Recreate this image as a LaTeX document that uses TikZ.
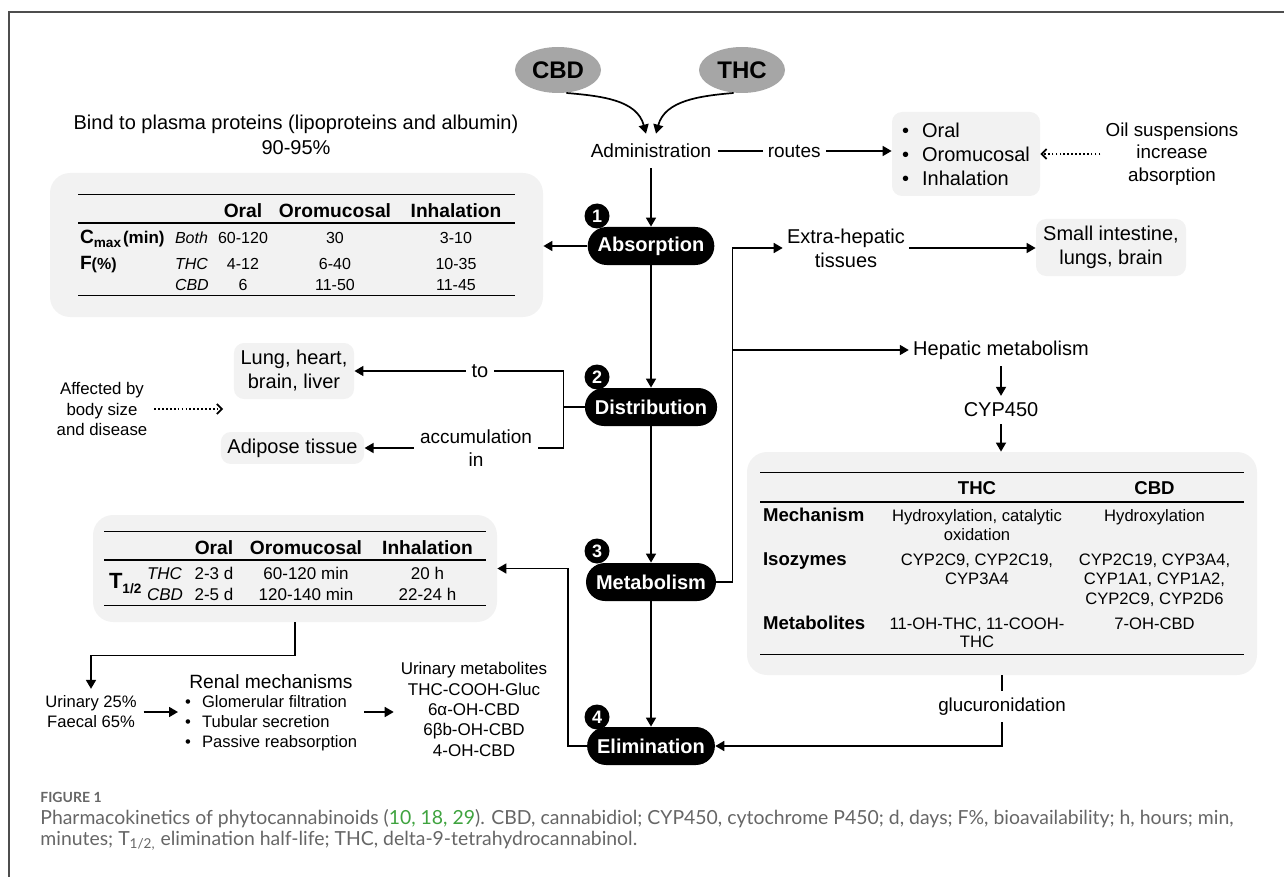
\documentclass[tikz,border=0pt]{standalone}
\usepackage{fontspec}
\setmainfont{Liberation Sans}
\newfontfamily\capfont{Lato}
\usepackage{array}
\usepackage{xcolor}
\usepackage{tikz}
\usetikzlibrary{arrows.meta, shapes.geometric, calc}

\definecolor{boxgrey}{HTML}{F2F2F2}
\definecolor{druggrey}{HTML}{A6A6A6}
\definecolor{framegrey}{HTML}{4D4D4D}
\definecolor{capgrey}{HTML}{666666}
\definecolor{refgreen}{HTML}{3FA33F}

% table rows get their height from a strut only
\renewcommand{\arraystretch}{0}
\setlength{\tabcolsep}{0pt}
\setlength{\arrayrulewidth}{0.75pt}
\newcommand{\rh}[2]{\rule[-#2]{0pt}{\dimexpr#1+#2\relax}}
\newcommand{\hbig}[1]{{\fontsize{9.6}{11}\selectfont\bfseries #1}}
\newcommand{\hsm}[1]{{\fontsize{9.3}{11}\selectfont\bfseries #1}}

\begin{document}
\begin{tikzpicture}[x=0.5pt, y=-0.5pt, >={Triangle[length=4.5pt,width=5pt]},
    conn/.style={line width=0.85pt},
    arr/.style={conn, ->},
    dotarr/.style={line width=0.85pt, dash pattern=on 0.85pt off 1.1pt, -{Straight Barb[length=2.5pt,width=5pt]}},
    lbl/.style={font=\fontsize{10}{12}\selectfont, align=center},
    slbl/.style={font=\fontsize{8.3}{10}\selectfont, align=center},
    drug/.style={ellipse, fill=druggrey, font=\bfseries\fontsize{12}{14}\selectfont, minimum width=43pt, minimum height=23pt, inner sep=0pt},
    stage/.style={fill=black, text=white, font=\bfseries\fontsize{10}{12}\selectfont, rounded corners=9.5pt, minimum height=19pt, inner xsep=5pt},
    badge/.style={circle, fill=black, text=white, font=\bfseries\fontsize{9}{10}\selectfont, minimum size=12.5pt, inner sep=0pt},
    greybox/.style={fill=boxgrey, rounded corners=5pt, align=center},
    tabbox/.style={fill=boxgrey, rounded corners=10pt, inner sep=0pt},
    capstyle/.style={anchor=west, inner sep=0pt, text=capgrey, font=\capfont\fontsize{9.7}{11}\selectfont}]

  \useasboundingbox (0,0) rectangle (1284,877);
  \draw[framegrey, line width=1pt] (9,877) -- (9,12) -- (1284,12);

  % drugs and administration
  \node[drug] (cbd) at (558,70) {CBD};
  \node[drug] (thc) at (742,70) {THC};
  \node[lbl, font=\fontsize{9.5}{11}\selectfont, inner xsep=3pt, inner ysep=5pt] (adm) at (651,151) {Administration};
  \draw[arr] (cbd.-70) to[out=-5, in=105] ([xshift=-2.5pt]adm.north);
  \draw[arr] (thc.-110) to[out=185, in=75] ([xshift=2.5pt]adm.north);

  \node[lbl, font=\fontsize{10}{12.5}\selectfont] (bind) at (296,134.5)
        {Bind to plasma proteins (lipoproteins and albumin)\\90-95\%};

  \node[greybox, align=left, minimum width=74pt, minimum height=42pt, inner xsep=5pt] (routelist) at (966,154)
        {\textbullet\hspace{6.5pt}Oral\\\textbullet\hspace{6.5pt}Oromucosal\\\textbullet\hspace{6.5pt}Inhalation};
  \draw[arr] (adm.east) -- node[lbl, font=\fontsize{9.5}{11}\selectfont, fill=white, inner xsep=2.5pt, pos=0.44]{routes} (adm.east -| routelist.west);
  \node[lbl, font=\fontsize{9.4}{11.3}\selectfont, inner xsep=2.5pt] (oil) at (1172,154) {Oil suspensions\\increase\\absorption};
  \draw[dotarr] (oil.west) -- (oil.west -| routelist.east);

  % the four stages
  \node[stage] (abs) at (651,246) {Absorption};
  \node[stage] (dis) at (651,407) {Distribution};
  \node[stage] (met) at (651,582) {Metabolism};
  \node[stage] (eli) at (651,746) {Elimination};
  \node[badge] (b1) at ($(abs)+(-54,-30)$) {1};
  \node[badge] (b2) at ($(dis)+(-54,-30)$) {2};
  \node[badge] (b3) at ($(met)+(-54,-31)$) {3};
  \node[badge] (b4) at ($(eli)+(-54,-29)$) {4};
  \draw[arr] (adm) -- (abs);
  \draw[arr] (abs) -- (dis);
  \draw[arr] (dis) -- (met);
  \draw[arr] (met) -- (eli);

  % absorption table
  \node[tabbox, minimum width=246.5pt, minimum height=72pt] (cmaxtab) at (296.5,245) {%
    \fontsize{8}{9.6}\selectfont
    \begin{tabular}{@{}w{l}{46.5pt}w{l}{21pt}w{c}{30pt}w{c}{62pt}w{c}{59pt}@{}}
      \hline
      \rh{10.9pt}{2.6pt} & & \hbig{Oral} & \hbig{Oromucosal} & \hbig{Inhalation}\\ \hline
      \rh{9.9pt}{3.6pt}\hspace{1pt}\hbig{C}{\fontsize{6.8}{8}\selectfont\bfseries\raisebox{-2pt}{max}}\hspace{1pt}{\fontsize{8.5}{10}\selectfont\bfseries(min)}
        & \hspace{2pt}\textit{Both} & 60-120 & 30 & 3-10\\
      \rh{9.4pt}{2.35pt}\hspace{1pt}\hbig{F}{\fontsize{8}{9}\selectfont\bfseries(\%)}
        & \hspace{2pt}\textit{THC} & 4-12 & 6-40 & 10-35\\
      \rh{8.15pt}{2.1pt} & \hspace{2pt}\textit{CBD} & 6 & 11-50 & 11-45\\ \hline
    \end{tabular}};
  \draw[arr] (abs.west) -- (abs.west -| cmaxtab.east);

  % distribution
  \node[greybox, lbl, minimum width=60pt, minimum height=28pt] (lung) at (294,371) {Lung, heart,\\brain, liver};
  \node[greybox, lbl, minimum width=70.5pt, minimum height=15pt] (fat) at (292.5,448) {Adipose tissue};
  \draw[conn] (dis.west) -- ++(-10.5pt,0) coordinate (split);
  \draw[arr] (split) |- node[lbl, fill=white, pos=0.7, inner xsep=3pt]{to} (lung.east);
  \draw[arr] (split) |- node[lbl, font=\fontsize{9.5}{11.5}\selectfont, fill=white, pos=0.72, inner xsep=3pt, inner ysep=1pt]{accumulation\\in} (fat.east);
  \node[slbl, font=\fontsize{8.4}{10.25}\selectfont] (aff) at (102,409) {Affected by\\body size\\and disease};
  \coordinate (affend) at (223,409);
  \draw[dotarr] (aff.east) -- (affend);

  % metabolism
  \node[lbl, inner xsep=2pt] (extra) at (846,248) {Extra-hepatic\\tissues};
  \node[greybox, lbl, minimum width=75pt, minimum height=28.5pt] (small) at (1111,247.5) {Small intestine,\\lungs, brain};
  \node[lbl, inner xsep=2pt] (hep) at (1001,350) {Hepatic metabolism};
  \node[lbl] (cyp) at (1001,410) {CYP450};
  \draw[arr] (met.east) -- ++(8pt,0) coordinate (mright) |- (extra.west);
  \draw[arr] (mright |- hep.west) -- (hep.west);
  \draw[arr] (extra.east) -- (extra.east -| small.west);
  \draw[arr] (hep) -- (cyp);

  \node[tabbox, minimum width=255pt, minimum height=111.5pt] (cyptab) at (1002,563.5) {%
    \fontsize{8.3}{10}\selectfont
    \begin{tabular}{@{}w{l}{64.5pt}w{c}{88pt}w{c}{89.5pt}@{}}
      \hline
      \rh{10.8pt}{3.2pt} & \hsm{THC} & \hsm{CBD}\\ \hline
      \rh{9.5pt}{1.75pt}\hspace{1.5pt}\hsm{Mechanism} & Hydroxylation, catalytic & Hydroxylation\\
      \rh{7.75pt}{3.25pt} & oxidation & \\
      \rh{9.25pt}{1.5pt}\hspace{1.5pt}\hsm{Isozymes} & CYP2C9, CYP2C19, & CYP2C19, CYP3A4,\\
      \rh{7.5pt}{2pt} & CYP3A4 & CYP1A1, CYP1A2,\\
      \rh{8pt}{3.25pt} & & CYP2C9, CYP2D6\\
      \rh{9.25pt}{1.5pt}\hspace{1.5pt}\hsm{Metabolites} & 11-OH-THC, 11-COOH- & 7-OH-CBD\\
      \rh{7.5pt}{3pt} & THC & \\ \hline
    \end{tabular}};
  \draw[arr] (cyp.south) -- (cyp.south |- cyptab.north);
  \draw[arr] (cyptab.south) |- node[lbl, font=\fontsize{9.4}{11}\selectfont, fill=white, pos=0.22, inner xsep=2pt]{glucuronidation} (eli.east);

  % elimination
  \node[tabbox, minimum width=202pt, minimum height=53.5pt] (halftab) at (295,568.5) {%
    \fontsize{8.5}{10}\selectfont
    \begin{tabular}{@{}w{l}{19.5pt}w{l}{21pt}w{c}{29pt}w{c}{63pt}w{c}{58.5pt}@{}}
      \hline
      \rh{10.9pt}{2.6pt} & & \hbig{Oral} & \hbig{Oromucosal} & \hbig{Inhalation}\\ \hline
      \rh{9.5pt}{2.25pt}\hspace{2.5pt}\raisebox{-4.5pt}[0pt][0pt]{{\fontsize{11}{12}\selectfont\bfseries T}{\fontsize{6.8}{8}\selectfont\bfseries\raisebox{-2.5pt}{1/2}}}
        & \hspace{2pt}\textit{THC} & 2-3 d & 60-120 min & 20 h\\
      \rh{8.25pt}{2pt} & \hspace{2pt}\textit{CBD} & 2-5 d & 120-140 min & 22-24 h\\ \hline
    \end{tabular}};
  \draw[arr] (eli.west) -- ++(-9.5pt,0) |- (halftab.east);

  \node[slbl] (uri) at (91,712) {Urinary 25\%\\Faecal 65\%};
  \node[lbl, font=\fontsize{9.6}{11}\selectfont] (renal) at (271,682) {Renal mechanisms};
  \node[slbl, align=left, anchor=west] (renlist) at (178,723)
        {\textbullet\hspace{5.6pt}Glomerular filtration\\\textbullet\hspace{5.6pt}Tubular secretion\\\textbullet\hspace{5.6pt}Passive reabsorption};
  \node[slbl, font=\fontsize{8.5}{10.15}\selectfont] (umet) at (474,709.5)
        {Urinary metabolites\\THC-COOH-Gluc\\6α-OH-CBD\\6βb-OH-CBD\\4-OH-CBD};
  \draw[arr] (halftab.south) -- ++(0,-16.5pt) -| (uri.north);
  \draw[arr] (uri.east) -- (uri.east -| renlist.west);
  \draw[arr] (renlist.east |- uri.east) -- (umet.west |- uri.east);

  % caption
  \node[capstyle, font=\capfont\bfseries\fontsize{7}{8}\selectfont] (figno) at (40,797) {FIGURE 1};
  \node[capstyle] (capa) at (40,819) {Pharmacokinetics of phytocannabinoids (\textcolor{refgreen}{10, 18, 29}). CBD, cannabidiol; CYP450, cytochrome P450; d, days; F\%, bioavailability; h, hours; min,};
  \node[capstyle] (capb) at (40,841) {minutes; T\textsubscript{1/2,} elimination half-life; THC, delta-9-tetrahydrocannabinol.};
\end{tikzpicture}
\end{document}
